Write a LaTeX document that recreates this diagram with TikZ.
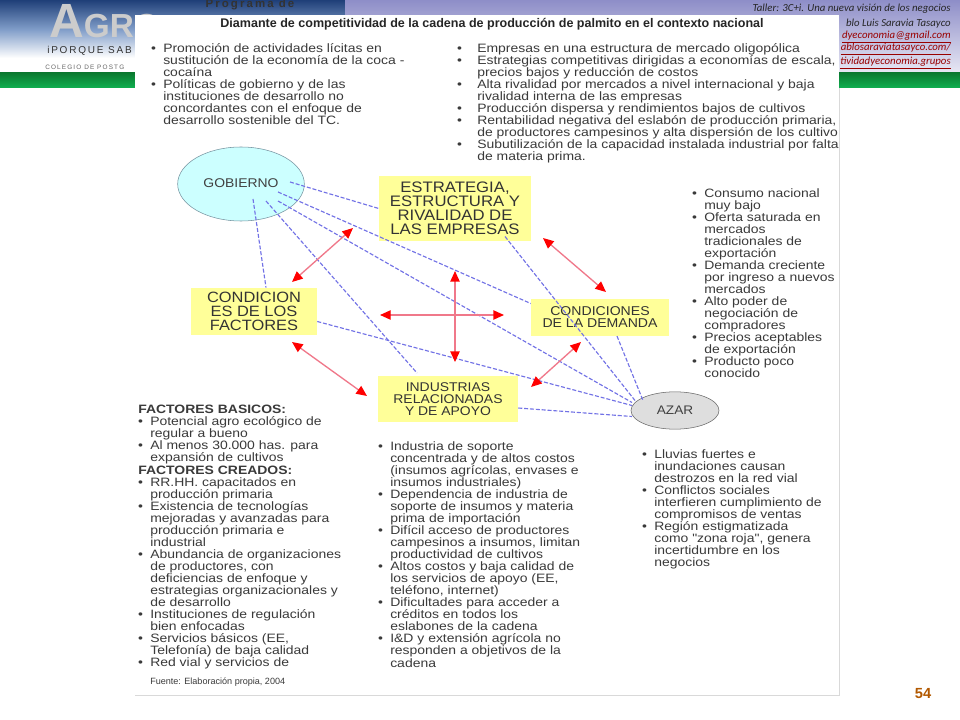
\documentclass[tikz,border=0pt]{standalone}
\usepackage{fontspec}
\usepackage{xcolor}
\usepackage{tikz}
\usetikzlibrary{arrows.meta,positioning,shapes.geometric}
\setmainfont{Liberation Sans}
\newfontfamily\talksfont{Carlito}
\newfontfamily\spacedfont[LetterSpace=18]{Liberation Sans}
\newfontfamily\listfont[FakeStretch=1.15]{Liberation Sans}
\newfontfamily\boxfont[FakeStretch=1.1]{Liberation Sans}
\newcommand{\bul}{\llap{\textbullet\hspace{5.5pt}}}
\newcommand{\bulwide}{\llap{\textbullet\hspace{11.5pt}}}
\newcommand{\headfac}{\hspace*{-9pt}\bfseries}
\newcommand{\tightlines}{\setlength{\lineskiplimit}{-20pt}}
\definecolor{boxyellow}{HTML}{FFFF99}
\definecolor{govcyan}{HTML}{CCFFFF}
\definecolor{dashblue}{HTML}{7272E6}
\definecolor{relred}{HTML}{F0788A}
\definecolor{inktext}{HTML}{3A3A3A}
\definecolor{skytop}{HTML}{1F3F78}
\definecolor{skymid}{HTML}{7F9CC8}
\definecolor{bandtop}{HTML}{8E8EC8}
\definecolor{bandlow}{HTML}{E8E8F4}
\definecolor{greentop}{HTML}{0A7A30}
\definecolor{greenlow}{HTML}{10B050}

\begin{document}
\begin{tikzpicture}[
    x=0.75pt, y=-0.75pt,
    factor/.style={rectangle, fill=boxyellow, text=black!80, align=center, inner sep=0pt},
    listing/.style={anchor=north west, inner sep=0pt, align=left, text=inktext,
                    font=\listfont\fontsize{9.1}{9.04}\selectfont\tightlines},
    header/.style={anchor=east, inner sep=0pt, text=black!85,
                   font=\talksfont\itshape\fontsize{8.1}{9}\selectfont},
    weblink/.style={header, text=red!60!black},
    rel/.style={<->, >={Triangle[length=8pt,width=7pt,color=red]}, draw=relred, line width=1pt},
    dep/.style={draw=dashblue, line width=0.85pt, dash pattern=on 3pt off 1.4pt},
]
    \useasboundingbox (0,0) rectangle (960,720);
    \fill[white] (0,0) rectangle (960,720);

    % Header
    \shade[top color=skytop, bottom color=white, middle color=skymid] (0,0) rectangle (345,58);
    \fill[white] (0,58) rectangle (345,73);
    \shade[top color=bandtop, bottom color=bandlow] (345,0) rectangle (960,73);
    \shade[top color=greentop, bottom color=greenlow] (0,73) rectangle (960,88);
    \node[inner sep=0pt, text=black!80] (program) at (250,5) {\spacedfont\bfseries\fontsize{8.6}{9}\selectfont Programa de};
    \node[inner sep=0pt, text=black!20, anchor=west] (agro) at (49,21) {\bfseries\fontsize{36}{38}\selectfont A\fontsize{25}{28}\selectfont GRO};
    \node[inner sep=0pt, text=black!80, anchor=west] (porque) at (47,51) {\spacedfont\fontsize{7.5}{8}\selectfont iPORQUE SAB};
    \node[inner sep=0pt, text=black!60, anchor=west] (colegio) at (45,67) {\spacedfont\fontsize{4.8}{5}\selectfont COLEGIO DE POSTG};
    \node[header] (taller) at (951,9) {Taller: 3C+i. Una nueva visión de los negocios};
    \node[header] (pablo) at (951,24) {blo Luis Saravia Tasayco};
    \node[weblink] (mail) at (951,37) {\underline{dyeconomia@gmail.com}};
    \node[weblink] (web) at (951,49) {\underline{ablosaraviatasayco.com/}};
    \node[weblink] (grupos) at (951,63) {\underline{tividadyeconomia.grupos}};

    % Slide card
    \fill[white] (135,15) rectangle (839,695);
    \draw[black!15] (839,88) -- (839,695) -- (135,695);
    \node[inner sep=0pt, text=black!85, font=\bfseries\fontsize{9.4}{11}\selectfont] (title) at (492,24)
        {Diamante de competitividad de la cadena de producción de palmito en el contexto nacional};
    \node[inner sep=0pt, text=orange!70!black, font=\bfseries\fontsize{11}{13}\selectfont] (page) at (923,694) {54};

    % Lists
    \node[listing] (listgob) at (163,43) {\bul Promoción de actividades lícitas en\\
        sustitución de la economía de la coca -\\cocaína\\
        \bul Políticas de gobierno y de las\\instituciones de desarrollo no\\
        concordantes con el enfoque de\\desarrollo sostenible del TC.};
    \node[listing] (listemp) at (477,43) {\bulwide Empresas en una estructura de mercado oligopólica\\
        \bulwide Estrategias competitivas dirigidas a economías de escala,\\
        precios bajos y reducción de costos\\
        \bulwide Alta rivalidad por mercados a nivel internacional y baja\\
        rivalidad interna de las empresas\\
        \bulwide Producción dispersa y rendimientos bajos de cultivos\\
        \bulwide Rentabilidad negativa del eslabón de producción primaria,\\
        de productores campesinos y alta dispersión de los cultivo\\
        \bulwide Subutilización de la capacidad instalada industrial por falta\\
        de materia prima.};
    \node[listing] (listdem) at (704,188) {\bul Consumo nacional\\muy bajo\\
        \bul Oferta saturada en\\mercados\\tradicionales de\\exportación\\
        \bul Demanda creciente\\por ingreso a nuevos\\mercados\\
        \bul Alto poder de\\negociación de\\compradores\\
        \bul Precios aceptables\\de exportación\\
        \bul Producto poco\\conocido};
    \node[listing] (listfac) at (150,405) {{\headfac FACTORES BASICOS:}\\
        \bul Potencial agro ecológico de\\regular a bueno\\
        \bul Al menos 30.000 has. para\\expansión de cultivos\\
        {\headfac FACTORES CREADOS:}\\
        \bul RR.HH. capacitados en\\producción primaria\\
        \bul Existencia de tecnologías\\mejoradas y avanzadas para\\producción primaria e\\industrial\\
        \bul Abundancia de organizaciones\\de productores, con\\deficiencias de enfoque y\\estrategias organizacionales y\\de desarrollo\\
        \bul Instituciones de regulación\\bien enfocadas\\
        \bul Servicios básicos (EE,\\Telefonía) de baja calidad\\
        \bul Red vial y servicios de};
    \node[inner sep=0pt, anchor=west, text=inktext, font=\fontsize{6.8}{8}\selectfont] (fuente) at (150,682) {Fuente: Elaboración propia, 2004};
    \node[listing] (listind) at (390,441) {\bul Industria de soporte\\concentrada y de altos costos\\(insumos agrícolas, envases e\\insumos industriales)\\
        \bul Dependencia de industria de\\soporte de insumos y materia\\prima de importación\\
        \bul Difícil acceso de productores\\campesinos a insumos, limitan\\productividad de cultivos\\
        \bul Altos costos y baja calidad de\\los servicios de apoyo (EE,\\teléfono, internet)\\
        \bul Dificultades para acceder a\\créditos en todos los\\eslabones de la cadena\\
        \bul I\&D y extensión agrícola no\\responden a objetivos de la\\cadena};
    \node[listing] (listaza) at (654,449) {\bul Lluvias fuertes e\\inundaciones causan\\destrozos en la red vial\\
        \bul Conflictos sociales\\interfieren cumplimiento de\\compromisos de ventas\\
        \bul Región estigmatizada\\como "zona roja", genera\\incertidumbre en los\\negocios};

    % Diamond
    \node[ellipse, draw=black!60!cyan!70, fill=govcyan, minimum width=95pt, minimum height=55.5pt, inner sep=0pt,
          text=black!75, font=\boxfont\fontsize{9.5}{11}\selectfont] (gob) at (241,184) {\raisebox{1pt}{GOBIERNO}\hspace{3pt}};
    \node[factor, minimum width=114pt, minimum height=49pt, font=\boxfont\fontsize{11.4}{10.5}\selectfont\tightlines] (estr) at (455,208.5)
        {ESTRATEGIA,\\ESTRUCTURA Y\\RIVALIDAD DE\\LAS EMPRESAS};
    \node[factor, minimum width=94.5pt, minimum height=35.5pt, font=\boxfont\fontsize{11.2}{10.5}\selectfont\tightlines] (cond) at (254,311.5)
        {CONDICION\\ES DE LOS\\FACTORES};
    \node[factor, minimum width=105pt, minimum height=34.5pt, font=\boxfont\fontsize{9.5}{9}\selectfont\tightlines] (ind) at (448,399)
        {INDUSTRIAS\\RELACIONADAS\\Y DE APOYO};
    \node[factor, minimum width=103.5pt, minimum height=27.5pt, font=\boxfont\fontsize{9.6}{9}\selectfont\tightlines] (dem) at (600,317.5)
        {CONDICIONES\\DE LA DEMANDA};
    \node[ellipse, draw=black!60, fill=black!13, minimum width=66pt, minimum height=28pt, inner sep=0pt,
          text=black!75, font=\boxfont\fontsize{9.3}{10}\selectfont] (azar) at (675,410.5) {AZAR\hspace{4.5pt}};

    % Free ends of the rivalry arrows
    \coordinate (estrleft) at (353,228);
    \coordinate (condtop) at (292,282);
    \coordinate (condlow) at (292,342);
    \coordinate (indleft) at (367,396);
    \coordinate (vtop) at (455,271);
    \coordinate (vlow) at (455,362);
    \coordinate (hleft) at (380,315);
    \coordinate (hright) at (504,315);
    \coordinate (estrright) at (543,238);
    \coordinate (demtop) at (606,292);
    \coordinate (demlow) at (581,342);
    \coordinate (indright) at (531,387);

    % Dashed links
    \draw[dep] ([shift={(49,-2)}]gob.center) -- (estr.west);
    \draw[dep] ([shift={(37,8)}]gob.center) -- ([shift={(0,-14)}]dem.west);
    \draw[dep] ([shift={(37,17)}]gob.center) -- ([shift={(-43,-8)}]azar.center);
    \draw[dep] ([shift={(25,17)}]gob.center) -- ([shift={(-31,-26)}]ind.center);
    \draw[dep] ([shift={(12,15)}]gob.center) -- ([shift={(12,0)}]cond.north);
    \draw[dep] ([shift={(0,10)}]cond.east) -- ([shift={(-43,-5)}]azar.center);
    \draw[dep] ([shift={(0,9)}]ind.east) -- ([shift={(-43,6)}]azar.center);
    \draw[dep] ([shift={(50,28)}]estr.center) -- ([shift={(-40,-10)}]azar.center);
    \draw[dep] ([shift={(17,0)}]dem.south) -- ([shift={(-32,-10)}]azar.center);

    % Rivalry arrows
    \draw[rel] (estrleft) -- (condtop);
    \draw[rel] (condlow) -- (indleft);
    \draw[rel] (vtop) -- (vlow);
    \draw[rel] (hleft) -- (hright);
    \draw[rel] (estrright) -- (demtop);
    \draw[rel] (demlow) -- (indright);
\end{tikzpicture}
\end{document}
